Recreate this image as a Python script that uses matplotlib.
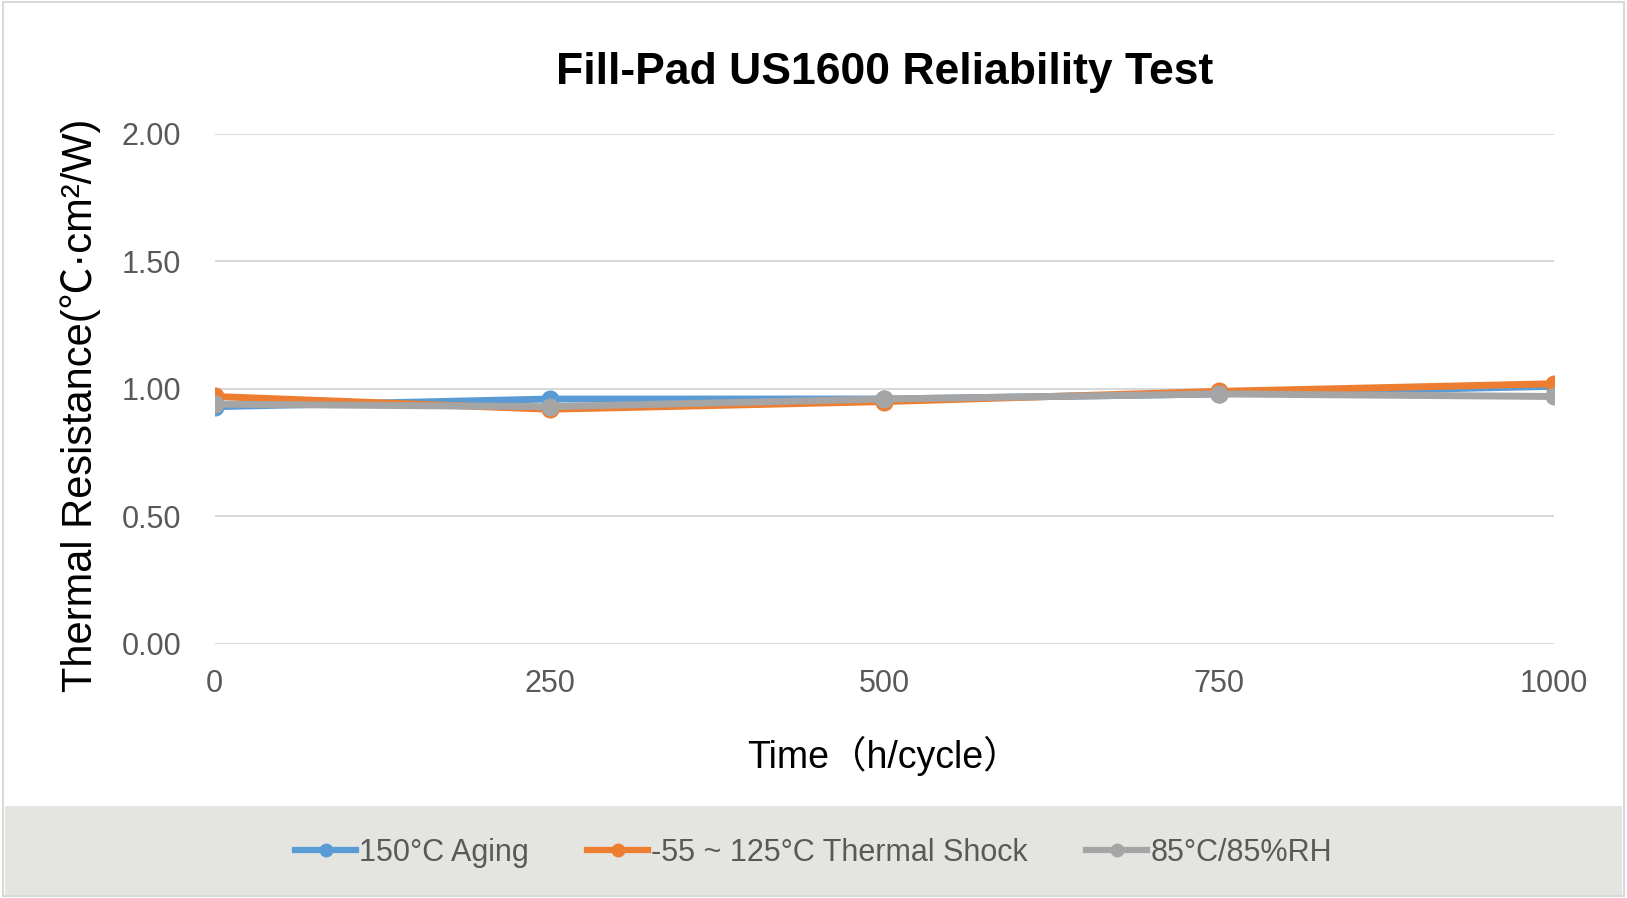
import numpy as np
import matplotlib.pyplot as plt
from matplotlib.patches import Rectangle
from matplotlib.lines import Line2D

# data
time = [0, 250, 500, 750, 1000]
aging = [0.93, 0.96, 0.96, 0.98, 1.01]
shock = [0.97, 0.92, 0.95, 0.99, 1.02]
humid = [0.94, 0.93, 0.96, 0.98, 0.97]

names = ['150°C Aging', '-55 ~ 125°C Thermal Shock', '85°C/85%RH']
colors = ['#5B9BD5', '#ED7D31', '#A5A5A5']

plt.rcParams['font.family'] = ['Liberation Sans', 'Noto Sans CJK SC', 'DejaVu Sans']

fig = plt.figure(figsize=(16.27, 8.98), dpi=100)
fig.patch.set_facecolor('white')

# outer border + legend band
fig.patches.append(Rectangle((0.002, 0.002), 0.996, 0.996, transform=fig.transFigure,
                             fill=False, edgecolor='#D9D9D9', linewidth=1.5))
fig.patches.append(Rectangle((0.003, 0.003), 0.994, 0.100, transform=fig.transFigure,
                             facecolor='#E4E4E0', edgecolor='none'))

ax = fig.add_axes([0.132, 0.283, 0.823, 0.568])
for y, c in zip([aging, shock, humid], colors):
    ax.plot(time, y, color=c, linewidth=5, marker='o', markersize=12,
            solid_capstyle='round')

ax.set_xlim(0, 1000)
ax.set_ylim(0, 2.0)
ax.set_xticks(time)
ax.set_yticks([0, 0.5, 1.0, 1.5, 2.0])
ax.set_yticklabels(['%.2f' % v for v in [0, 0.5, 1.0, 1.5, 2.0]])
ax.grid(axis='y', color='#D9D9D9', linewidth=1.5)
ax.set_axisbelow(True)
for s in ax.spines.values():
    s.set_visible(False)
ax.tick_params(length=0, labelsize=22, colors='#595959', pad=18)
ax.tick_params(axis='y', pad=24)

ax.set_xlabel('Time（h/cycle）', fontsize=27, color='black', labelpad=27)
ax.set_ylabel('Thermal Resistance(℃·cm²/W)', fontsize=30, color='black')
ax.yaxis.set_label_coords(-0.085, 0.468)
ax.set_title('Fill-Pad US1600 Reliability Test', fontsize=32, fontweight='bold', pad=36)

handles = [Line2D([0], [0], color=c, linewidth=4.5, marker='o', markersize=9) for c in colors]
fig.legend(handles, names, loc='center', bbox_to_anchor=(0.5, 0.050), ncol=3,
           frameon=False, handlelength=2.0, columnspacing=1.9,
           handletextpad=0.1, labelcolor='#595959',
           prop={'family': ['Liberation Sans Narrow', 'Liberation Sans'], 'size': 22})

fig.savefig('out.png', dpi=100)
